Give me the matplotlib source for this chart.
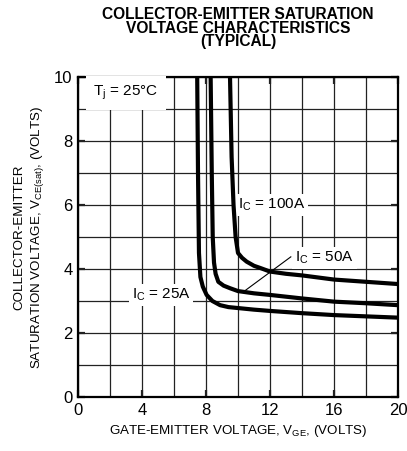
import matplotlib
matplotlib.use("Agg")
import matplotlib.pyplot as plt

plt.rcParams['font.family'] = ['Liberation Sans', 'DejaVu Sans']
plt.rcParams['mathtext.default'] = 'regular'

# curves (V_GE, V_CE(sat))
vge_25 = [7.45, 7.5, 7.56, 7.65, 7.8, 8.04, 8.4, 8.88, 9.4, 10.0, 11.0, 12.0, 14.0, 16.0, 18.0, 20.0]
vce_25 = [10.0, 7.0, 4.5, 3.75, 3.45, 3.19, 3.0, 2.87, 2.81, 2.78, 2.73, 2.69, 2.62, 2.56, 2.52, 2.48]

vge_50 = [8.29, 8.36, 8.42, 8.5, 8.6, 8.77, 9.1, 9.5, 10.0, 11.0, 12.0, 14.0, 16.0, 18.0, 20.0]
vce_50 = [10.0, 7.0, 5.0, 4.2, 3.85, 3.6, 3.48, 3.4, 3.31, 3.24, 3.19, 3.08, 2.98, 2.93, 2.87]

vge_100 = [9.5, 9.6, 9.72, 9.85, 10.0, 10.25, 10.54, 11.0, 11.4, 12.0, 13.0, 14.0, 16.0, 18.0, 20.0]
vce_100 = [10.0, 7.5, 6.0, 5.0, 4.5, 4.35, 4.23, 4.1, 4.03, 3.92, 3.85, 3.8, 3.67, 3.6, 3.53]

x_ticks = [0, 4, 8, 12, 16, 20]
y_ticks = [0, 2, 4, 6, 8, 10]

fig = plt.figure(figsize=(4.07, 4.51), dpi=100)
ax = fig.add_axes([0.1916, 0.1197, 0.7864, 0.7096])

ax.set_xlim(0, 20)
ax.set_ylim(0, 10)
ax.set_xticks(x_ticks)
ax.set_yticks(y_ticks)
ax.set_xticks([2, 6, 10, 14, 18], minor=True)
ax.set_yticks([1, 3, 5, 7, 9], minor=True)
ax.grid(True, which='both', color='#222222', linewidth=0.9, zorder=1)
ax.set_axisbelow(True)
ax.tick_params(which='major', direction='in', length=5, width=1.6,
               top=True, right=True, labelsize=12, pad=4, color='#222222')
ax.tick_params(which='minor', length=0)
for s in ax.spines.values():
    s.set_linewidth(1.6)

ax.plot(vge_25, vce_25, color='black', linewidth=3, zorder=4, solid_capstyle='butt')
ax.plot(vge_50, vce_50, color='black', linewidth=3, zorder=4, solid_capstyle='butt')
ax.plot(vge_100, vce_100, color='black', linewidth=3, zorder=4, solid_capstyle='butt')

box = dict(facecolor='white', edgecolor='none', pad=2)
ax.text(3.0, 9.5, 'T$_j$ = 25°C', fontsize=11, ha='center', va='center',
        bbox=dict(facecolor='white', edgecolor='none', pad=5.5), zorder=3)
ax.text(10.0, 6.0, 'I$_C$ = 100A', fontsize=11, ha='left', va='center', bbox=box, zorder=3)
ax.text(13.55, 4.35, 'I$_C$ = 50A', fontsize=11, ha='left', va='center', bbox=box, zorder=3)
ax.text(3.35, 3.2, 'I$_C$ = 25A', fontsize=11, ha='left', va='center', bbox=box, zorder=3)
ax.plot([10.4, 13.3], [3.31, 4.38], color='black', linewidth=0.8, zorder=3)

ax.set_xlabel('GATE-EMITTER VOLTAGE, V$_{GE}$, (VOLTS)', fontsize=9.6, labelpad=4)
ax.set_ylabel('COLLECTOR-EMITTER\nSATURATION VOLTAGE, V$_{CE(sat)}$, (VOLTS)',
              fontsize=9.6, labelpad=6, linespacing=1.3)
ax.set_title('COLLECTOR-EMITTER SATURATION\nVOLTAGE CHARACTERISTICS\n(TYPICAL)',
             fontsize=11.2, fontweight='bold', pad=22, linespacing=0.88)

fig.savefig('out.png', dpi=100)
